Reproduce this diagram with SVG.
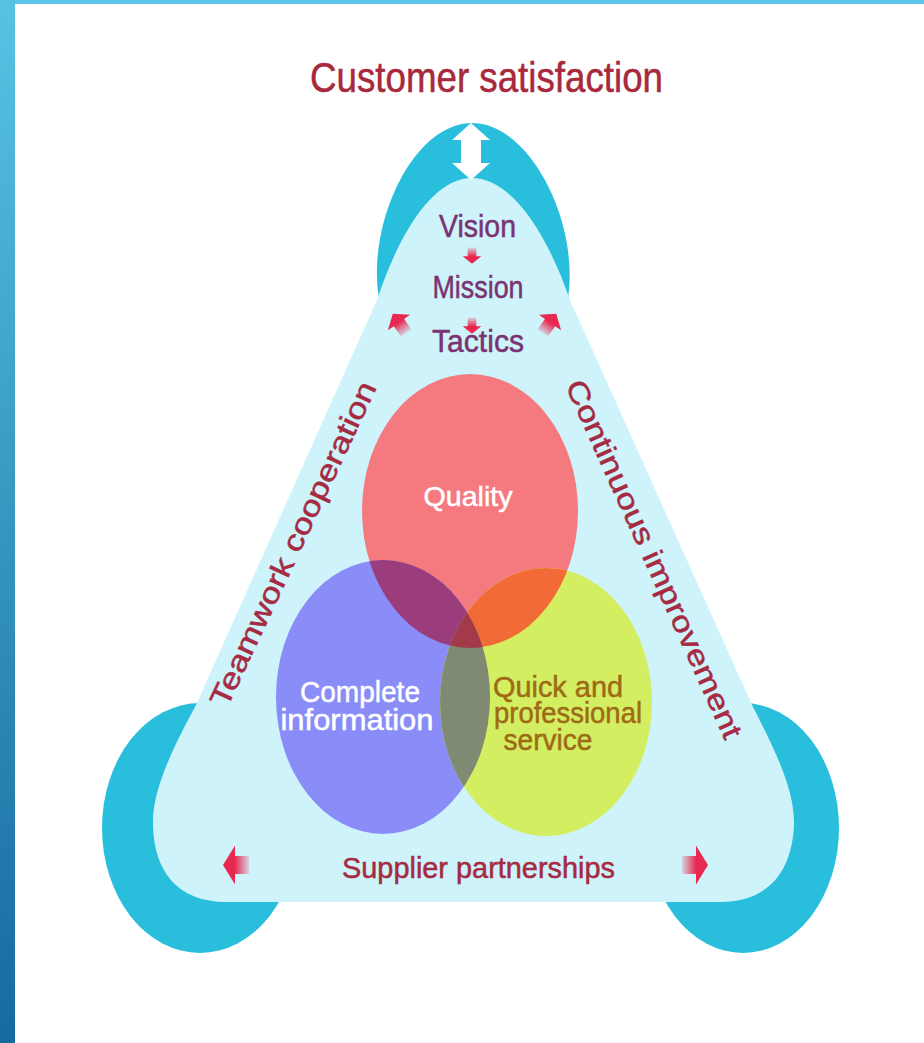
<svg xmlns="http://www.w3.org/2000/svg" width="924" height="1043" viewBox="0 0 924 1043">
<style>
  text { font-family: "Liberation Sans", Arial, sans-serif; stroke-width: 0.5px; }
  .title { fill: #a8283c; stroke: #a8283c; font-size: 42px; }
  .step { fill: #7a3370; stroke: #7a3370; font-size: 31px; }
  .side { fill: #a52a42; stroke: #a52a42; font-size: 29px; }
  .white { fill: #ffffff; stroke: #ffffff; }
  .ochre { fill: #9e6a16; stroke: #9e6a16; }
  .crescent { fill: #29bedc; }
  .arrow { fill: url(#ag); }
</style>
<defs>
  <linearGradient id="barg" x1="0" y1="0" x2="0" y2="1">
    <stop offset="0" stop-color="#57c3e3"/>
    <stop offset="1" stop-color="#166a9f"/>
  </linearGradient>
  <linearGradient id="ag" x1="0" y1="0" x2="1" y2="0">
    <stop offset="0" stop-color="#e8284f" stop-opacity="0.15"/>
    <stop offset="0.55" stop-color="#e8284f" stop-opacity="1"/>
    <stop offset="1" stop-color="#e8284f" stop-opacity="1"/>
  </linearGradient>
  <path id="arr" d="M-12,-7 L2,-7 L2,-15 L14,0 L2,15 L2,7 L-12,7 Z"/>
  <clipPath id="cRed"><ellipse cx="470" cy="511" rx="108" ry="137"/></clipPath>
  <clipPath id="cBlue"><ellipse cx="383" cy="697" rx="107" ry="137"/></clipPath>
  <clipPath id="cGreen"><ellipse cx="546" cy="702" rx="106" ry="134"/></clipPath>
</defs>

<rect width="924" height="1043" fill="#ffffff"/>
<g id="frame">
  <rect x="0" y="0" width="924" height="4" fill="#5bc5e5"/>
  <rect x="0" y="0" width="15" height="1043" fill="url(#barg)"/>
</g>

<g id="crescents">
  <path class="crescent" d="M380,304 C 364,228 412,123 472,123 C 532,123 582,228 567,304 Z"/>
  <ellipse class="crescent" cx="200" cy="828" rx="98" ry="125"/>
  <ellipse class="crescent" cx="743" cy="828" rx="96" ry="125"/>
</g>

<g id="triangle">
  <path fill="#cef3fa" d="M377,300 C 402,225 436,178 472,178 C 508,178 544,225 570,300 L752,705 C 775,750 795,790 794,825 C 792,872 768,902 720,902 L226,902 C 178,902 154,872 153,825 C 152,790 172,750 196,705 Z"/>
</g>

<g id="venn">
  <ellipse id="quality" cx="470" cy="511" rx="108" ry="137" fill="#f47a80"/>
  <ellipse id="info" cx="383" cy="697" rx="107" ry="137" fill="#8a8df8"/>
  <ellipse id="service" cx="546" cy="702" rx="106" ry="134" fill="#d4ee62"/>
  <g clip-path="url(#cRed)">
    <ellipse cx="383" cy="697" rx="107" ry="137" fill="#9b3d7c"/>
    <ellipse cx="546" cy="702" rx="106" ry="134" fill="#f26a35"/>
  </g>
  <g clip-path="url(#cBlue)">
    <ellipse cx="546" cy="702" rx="106" ry="134" fill="#7f8a72"/>
    <g clip-path="url(#cRed)">
      <ellipse cx="546" cy="702" rx="106" ry="134" fill="#a33a4a"/>
    </g>
  </g>
</g>

<g id="connectors">
  <g id="white-arrow">
    <path fill="#ffffff" d="M471,123 L490,140 L481,140 L481,163 L490,163 L471,180 L452,163 L461,163 L461,140 L452,140 Z"/>
  </g>
  <use href="#arr" class="arrow" transform="translate(472,255) rotate(90) scale(0.62)"/>
  <use href="#arr" class="arrow" transform="translate(472,325) rotate(90) scale(0.62)"/>
  <use href="#arr" class="arrow" transform="translate(400,324) rotate(-125) scale(0.9)"/>
  <use href="#arr" class="arrow" transform="translate(549,324) rotate(-55) scale(0.9)"/>
  <use href="#arr" class="arrow" transform="translate(237,865) scale(-1,1.3)"/>
  <use href="#arr" class="arrow" transform="translate(694,865) scale(1,1.3)"/>
</g>

<g id="labels">
  <text class="title" x="486.5" y="92" text-anchor="middle" textLength="353" lengthAdjust="spacingAndGlyphs">Customer satisfaction</text>
  <text class="step" x="477.5" y="237" text-anchor="middle" textLength="77" lengthAdjust="spacingAndGlyphs">Vision</text>
  <text class="step" x="478" y="298" text-anchor="middle" textLength="91" lengthAdjust="spacingAndGlyphs">Mission</text>
  <text class="step" x="478" y="352" text-anchor="middle" textLength="92" lengthAdjust="spacingAndGlyphs">Tactics</text>
  <text class="white" x="468" y="506" font-size="28" text-anchor="middle" textLength="89" lengthAdjust="spacingAndGlyphs">Quality</text>
  <text class="white" x="360" y="702" font-size="30" text-anchor="middle" textLength="120" lengthAdjust="spacingAndGlyphs">Complete</text>
  <text class="white" x="357" y="730" font-size="30" text-anchor="middle" textLength="153" lengthAdjust="spacingAndGlyphs">information</text>
  <text class="ochre" x="558" y="697" font-size="30" text-anchor="middle" textLength="130" lengthAdjust="spacingAndGlyphs">Quick and</text>
  <text class="ochre" x="568" y="723" font-size="30" text-anchor="middle" textLength="148" lengthAdjust="spacingAndGlyphs">professional</text>
  <text class="ochre" x="548" y="750" font-size="30" text-anchor="middle" textLength="89" lengthAdjust="spacingAndGlyphs">service</text>
  <text class="side" x="478.5" y="878" font-size="31" text-anchor="middle" textLength="273" lengthAdjust="spacingAndGlyphs">Supplier partnerships</text>
  <text class="side" transform="translate(302,548) rotate(-65)" text-anchor="middle" textLength="355" lengthAdjust="spacingAndGlyphs">Teamwork cooperation</text>
  <text class="side" transform="translate(645,563) rotate(65.8)" text-anchor="middle" textLength="390" lengthAdjust="spacingAndGlyphs">Continuous improvement</text>
</g>
</svg>
